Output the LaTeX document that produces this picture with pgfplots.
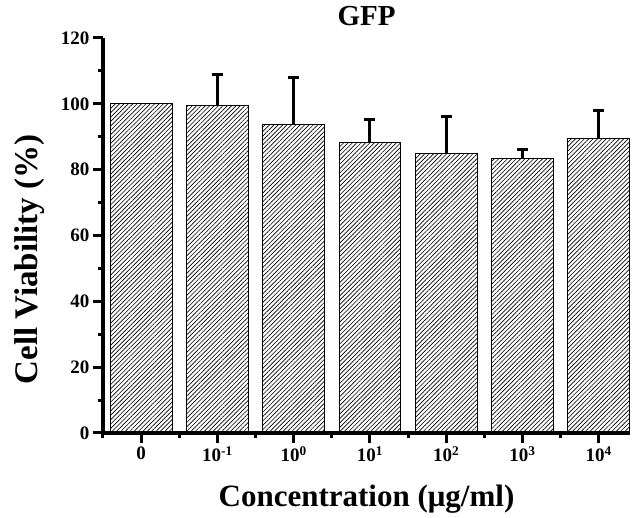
\documentclass[border=0pt]{standalone}
\usepackage{pgfplots}
\pgfplotsset{compat=1.18}
\usepackage{fontspec}
\setmainfont{Liberation Serif}
\usetikzlibrary{patterns.meta}
\begin{document}
\begin{tikzpicture}
\begin{axis}[
  at={(0,0)}, anchor=south west,
  scale only axis,
  width=527pt, height=395pt,
  xmin=-0.5, xmax=6.41,
  ymin=0, ymax=120,
  axis lines*=left,
  x axis line style={line width=3.4pt, -},
  y axis line style={line width=3.4pt, -},
  every tick/.style={line width=3pt,black},
  tick align=outside,
  major tick length=10pt,
  minor tick length=5pt,
  xtick={0,...,6},
  xticklabels={0,10\textsuperscript{-1},10\textsuperscript{0},10\textsuperscript{1},10\textsuperscript{2},10\textsuperscript{3},10\textsuperscript{4}},
  minor xtick={-0.5,0.5,1.5,...,5.5},
  ytick={0,20,...,120},
  minor y tick num=1,
  /pgf/number format/assume math mode=true,
  tick label style={font=\bfseries\fontsize{19}{19}\selectfont},
  xlabel={\textbf{Concentration (μg/ml)}},
  ylabel={\textbf{Cell Viability (\%)}},
  xlabel style={font=\bfseries\fontsize{31}{31}\selectfont, at={(axis description cs:0.5,0)}, anchor=base, yshift=-74pt},
  ylabel style={font=\bfseries\fontsize{33}{33}\selectfont, at={(axis description cs:0,0.5)}, anchor=center, yshift=73pt, xshift=-24pt},
  title={\textbf{GFP}},
  title style={font=\bfseries\fontsize{29}{29}\selectfont, at={(axis description cs:0.5,1)}, anchor=base, yshift=6pt},
  clip=false,
]
\addplot[ybar, bar width=0.81, bar shift=0pt, draw=black, line width=1pt,
  pattern={Lines[angle=45, distance=3.1pt, line width=0.65pt]}]
coordinates {(0,100)};
\addplot[ybar, bar width=0.81, bar shift=0pt, draw=black, line width=1pt,
  pattern={Lines[angle=45, distance=3.1pt, line width=0.65pt]},
  error bars/.cd, y dir=plus, y explicit,
  error bar style={line width=3pt, black},
  error mark options={rotate=90, mark size=5.5pt, line width=3pt, black}]
coordinates {
(1,99.4) +- (0,9.4)
(2,93.6) +- (0,14.3)
(3,88.2) +- (0,6.9)
(4,85.0) +- (0,11.0)
(5,83.4) +- (0,2.8)
(6,89.6) +- (0,8.5)
};
\end{axis}
\path (-103pt,-83pt) rectangle (531pt,433pt);
\end{tikzpicture}
\end{document}
